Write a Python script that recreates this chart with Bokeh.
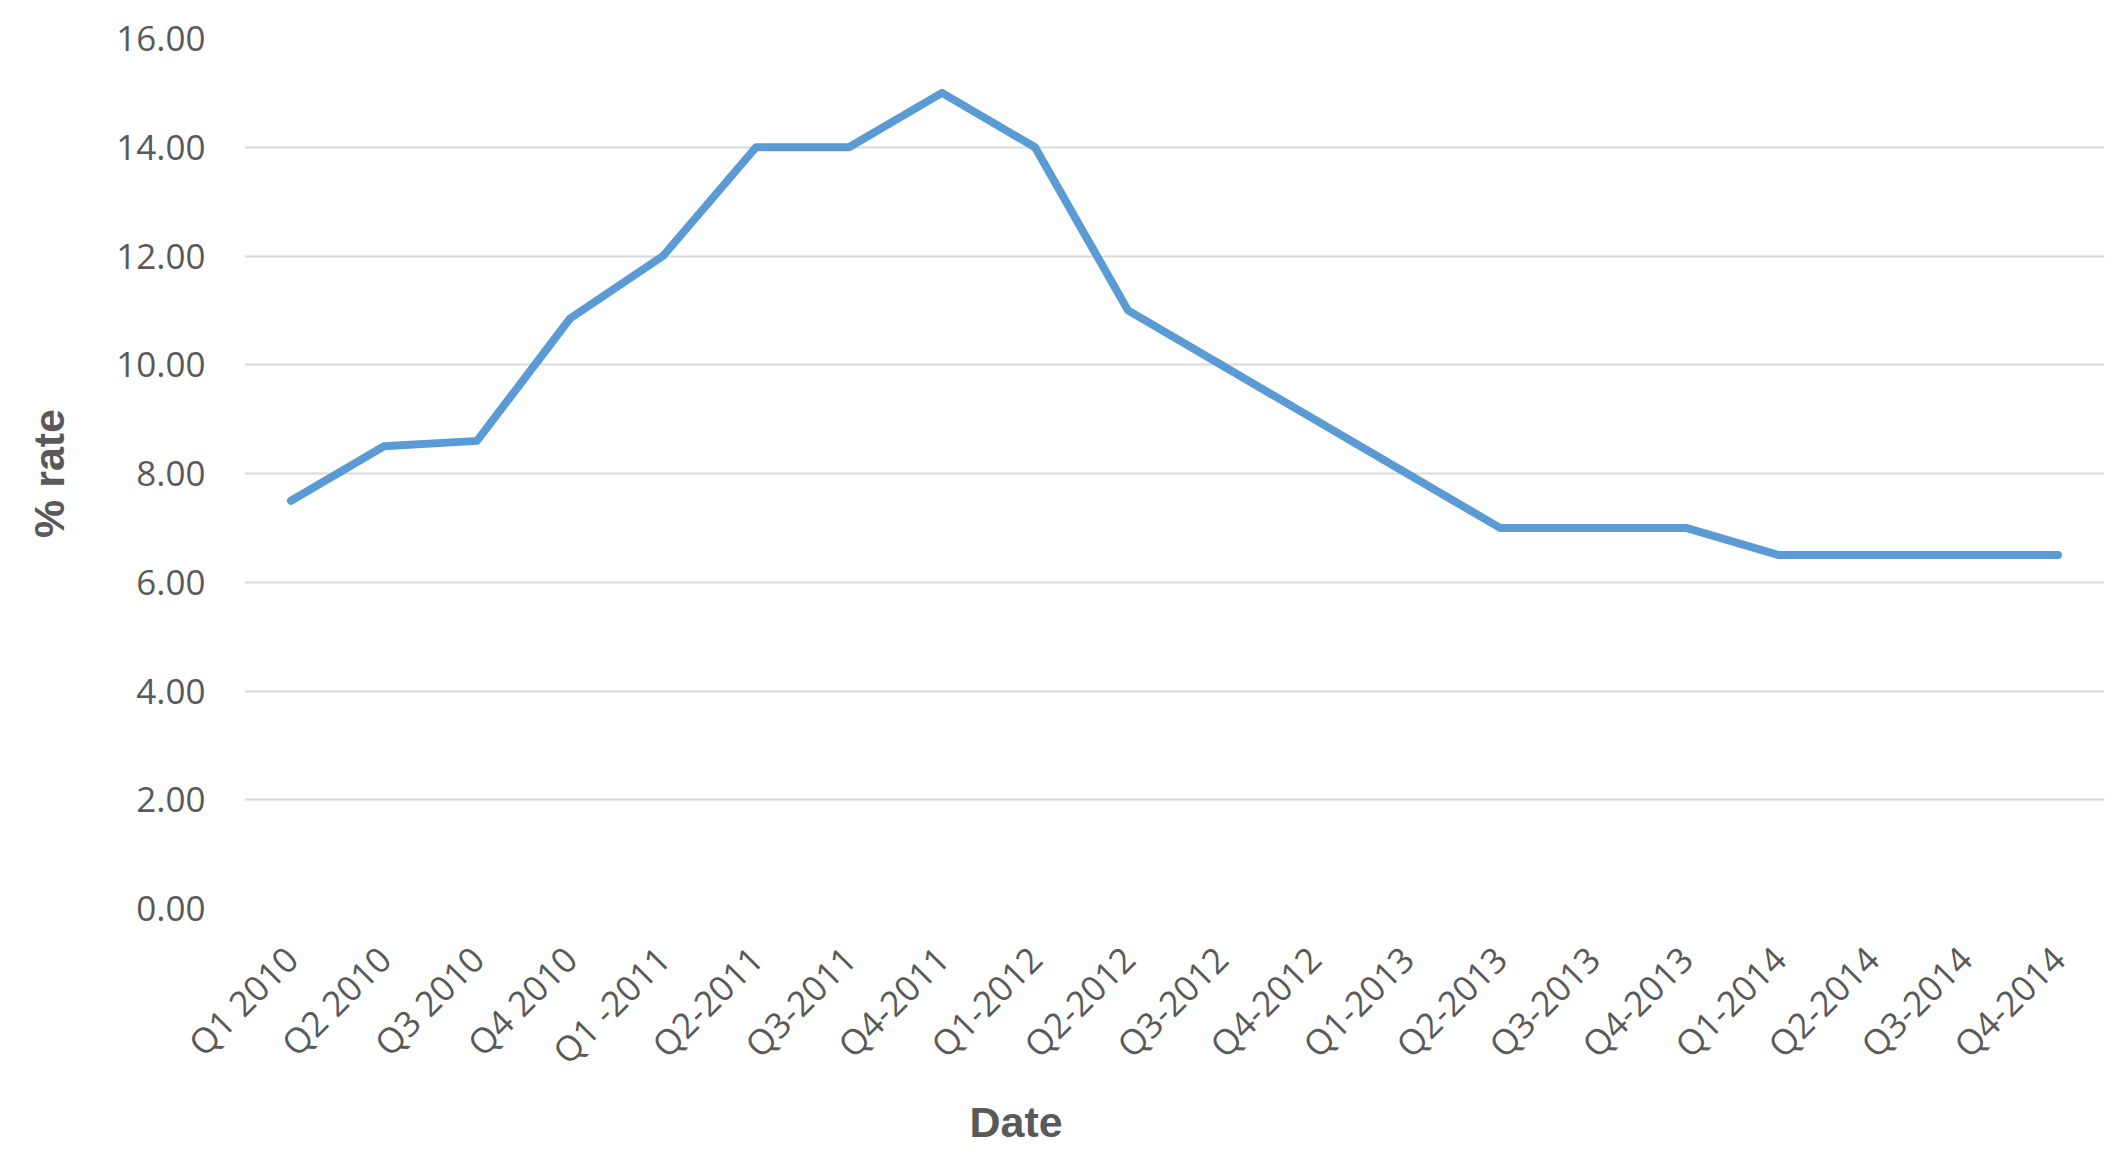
import math
from bokeh.plotting import figure
from bokeh.models import FactorRange, Range1d, FixedTicker, NumeralTickFormatter, Title
from bokeh.embed import file_html
from bokeh.resources import INLINE

quarters = ["Q1 2010", "Q2 2010", "Q3 2010", "Q4 2010", "Q1 -2011", "Q2-2011",
            "Q3-2011", "Q4-2011", "Q1-2012", "Q2-2012", "Q3-2012", "Q4-2012",
            "Q1-2013", "Q2-2013", "Q3-2013", "Q4-2013", "Q1-2014", "Q2-2014",
            "Q3-2014", "Q4-2014"]
rate = [7.5, 8.5, 8.6, 10.85, 12.0, 14.0, 14.0, 15.0, 14.0, 11.0,
        10.0, 9.0, 8.0, 7.0, 7.0, 7.0, 6.5, 6.5, 6.5, 6.5]
y_ticks = [0, 2, 4, 6, 8, 10, 12, 14, 16]

W, H = 2108, 1152
p = figure(width=W, height=H, output_backend="svg", toolbar_location=None,
           x_range=FactorRange(factors=quarters), y_range=Range1d(0, 16),
           min_border_left=244, min_border_right=4, min_border_top=38,
           min_border_bottom=244)
p.outline_line_color = None
p.background_fill_color = "white"
p.border_fill_color = "white"

p.line(x=quarters, y=rate, line_color="#5B9BD5", line_width=8,
       line_join="round", line_cap="round")

gray = "#595959"
p.xgrid.grid_line_color = None
p.ygrid.grid_line_color = "#D9D9D9"
p.ygrid.grid_line_width = 2

p.yaxis.ticker = FixedTicker(ticks=y_ticks)
p.yaxis.formatter = NumeralTickFormatter(format="0.00")
for ax in (p.xaxis[0], p.yaxis[0]):
    ax.axis_line_color = None
    ax.major_tick_line_color = None
    ax.minor_tick_line_color = None
    ax.major_tick_in = 0
    ax.major_tick_out = 0
    ax.major_label_text_color = gray
    ax.major_label_text_font = "Open Sans"
    ax.major_label_text_font_size = "35px"
p.yaxis.major_label_standoff = 39
p.xaxis.major_label_orientation = math.pi / 4
p.xaxis.major_label_standoff = 44

p.yaxis.axis_label = "% rate"
p.yaxis.axis_label_text_font = "Liberation Sans"
p.yaxis.axis_label_text_font_style = "bold"
p.yaxis.axis_label_text_font_size = "43px"
p.yaxis.axis_label_text_color = gray
p.yaxis.axis_label_standoff = 40

p.add_layout(Title(text="Date", align="left", offset=725, vertical_align="top",
                   standoff=8, text_font="Liberation Sans", text_font_style="bold",
                   text_font_size="43px", text_color=gray), "below")

open("out.html", "w").write(file_html(p, INLINE))
